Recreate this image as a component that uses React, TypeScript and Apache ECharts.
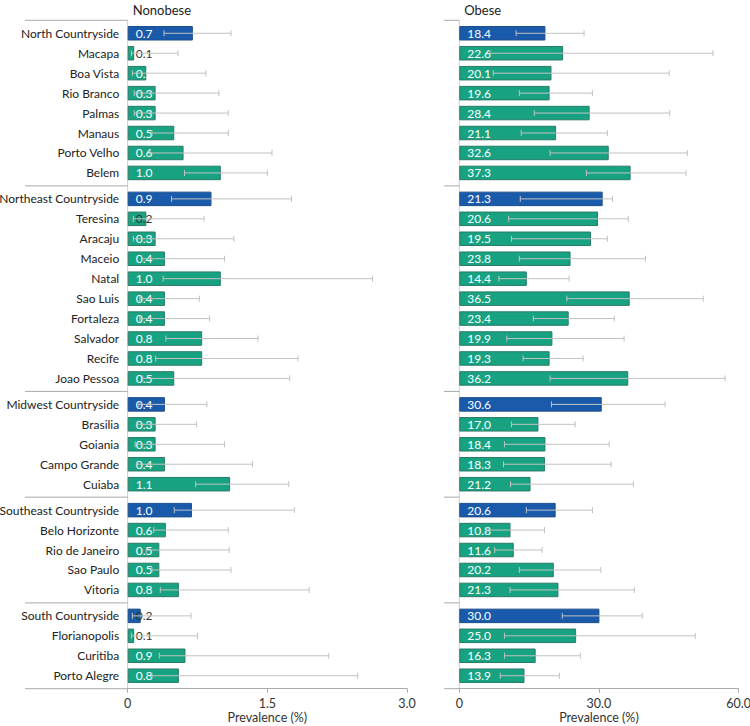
import React, { useEffect, useRef } from "react";
import * as echarts from "echarts";

const names = [
  "North Countryside", "Macapa", "Boa Vista", "Rio Branco", "Palmas", "Manaus", "Porto Velho", "Belem",
  "Northeast Countryside", "Teresina", "Aracaju", "Maceio", "Natal", "Sao Luis", "Fortaleza", "Salvador", "Recife", "Joao Pessoa",
  "Midwest Countryside", "Brasilia", "Goiania", "Campo Grande", "Cuiaba",
  "Southeast Countryside", "Belo Horizonte", "Rio de Janeiro", "Sao Paulo", "Vitoria",
  "South Countryside", "Florianopolis", "Curitiba", "Porto Alegre",
];
const groupSizes = [8, 10, 5, 5, 4];

const nonobeseBar = [0.70, 0.07, 0.20, 0.30, 0.30, 0.50, 0.60, 1.00, 0.90, 0.20, 0.30, 0.40, 1.00, 0.40, 0.40, 0.80, 0.80, 0.50, 0.40, 0.30, 0.30, 0.40, 1.10, 0.69, 0.41, 0.34, 0.34, 0.55, 0.14, 0.07, 0.62, 0.55];
const nonobeseLow = [0.39, 0.04, 0.05, 0.07, 0.07, 0.26, 0.24, 0.61, 0.47, 0.06, 0.06, 0.15, 0.38, 0.13, 0.13, 0.41, 0.30, 0.16, 0.12, 0.10, 0.08, 0.10, 0.73, 0.50, 0.28, 0.20, 0.26, 0.35, 0.05, 0.04, 0.34, 0.26];
const nonobeseHigh = [1.11, 0.54, 0.84, 0.98, 1.08, 1.08, 1.55, 1.50, 1.76, 0.82, 1.14, 1.04, 2.63, 0.77, 0.88, 1.40, 1.83, 1.74, 0.85, 0.74, 1.04, 1.34, 1.73, 1.79, 1.08, 1.09, 1.11, 1.95, 0.68, 0.75, 2.16, 2.47];
const nonobeseLabel = ["0.7", "0.1", "0.2", "0.3", "0.3", "0.5", "0.6", "1.0", "0.9", "0.2", "0.3", "0.4", "1.0", "0.4", "0.4", "0.8", "0.8", "0.5", "0.4", "0.3", "0.3", "0.4", "1.1", "1.0", "0.6", "0.5", "0.5", "0.8", "0.2", "0.1", "0.9", "0.8"];

const obeseBar = [18.5, 22.3, 19.8, 19.4, 28.0, 20.8, 32.1, 36.8, 30.8, 29.8, 28.3, 23.9, 14.5, 36.6, 23.5, 20.0, 19.4, 36.3, 30.6, 17.0, 18.5, 18.4, 15.3, 20.7, 11.0, 11.7, 20.3, 21.3, 30.1, 25.1, 16.4, 14.0];
const obeseLow = [12.2, 6.6, 7.3, 12.9, 16.1, 13.3, 19.5, 27.3, 13.1, 10.6, 11.2, 12.9, 8.5, 23.1, 15.9, 10.2, 13.7, 19.5, 19.8, 11.2, 9.7, 9.5, 11.0, 14.4, 5.9, 7.6, 12.9, 10.9, 22.1, 9.7, 9.7, 8.8];
const obeseHigh = [26.8, 54.5, 45.1, 28.6, 45.2, 31.8, 49.0, 48.7, 32.9, 36.3, 31.8, 40.0, 23.6, 52.4, 33.3, 35.4, 26.6, 57.1, 44.2, 24.9, 32.2, 32.6, 37.4, 28.6, 18.3, 17.8, 30.4, 37.6, 39.3, 50.7, 26.0, 21.5];
const obeseLabel = ["18.4", "22.6", "20.1", "19.6", "28.4", "21.1", "32.6", "37.3", "21.3", "20.6", "19.5", "23.8", "14.4", "36.5", "23.4", "19.9", "19.3", "36.2", "30.6", "17,0", "18.4", "18.3", "21.2", "20.6", "10.8", "11.6", "20.2", "21.3", "30.0", "25.0", "16.3", "13.9"];

const darkLabelRows = ["Macapa", "Teresina", "South Countryside", "Florianopolis"];

const panelTitles = ["Nonobese", "Obese"];
const axisMax = [3, 60];
const axisInterval = [1.5, 30];

const FONT = "Lato, 'Open Sans', sans-serif";
const TOP = 20.3;
const ROW = 19.95;
const PAD = 3;
const PANEL_LEFT = [127.7, 459.3];
const PANEL_W = 279.3;
const SEP_LEFT = [25, 444];
const BLUE = "#1a5aab";
const GREEN = "#17a382";
const GREEN_BORDER = "#2a7a66";
const BLUE_BORDER = "#1d4f8a";
const ERR = "#c2c2c2";
const LINE = "#aaaaaa";

export default function App() {
  const ref = useRef<HTMLDivElement>(null);
  useEffect(() => {
    if (!ref.current) return;
    const chart = echarts.init(ref.current, undefined, { renderer: "svg" });

    const panels = [
      { bar: nonobeseBar, low: nonobeseLow, high: nonobeseHigh, label: nonobeseLabel },
      { bar: obeseBar, low: obeseLow, high: obeseHigh, label: obeseLabel },
    ];

    const groupTops: number[] = [];
    const boundaries: number[] = [];
    let y = TOP;
    groupSizes.forEach((n) => {
      boundaries.push(y);
      groupTops.push(y + PAD);
      y += n * ROW + 2 * PAD;
    });
    const bottom = y;
    const groupStart: number[] = [];
    let s = 0;
    groupSizes.forEach((n) => { groupStart.push(s); s += n; });

    const grid: any[] = [];
    const xAxis: any[] = [];
    const yAxis: any[] = [];
    const series: any[] = [];

    panels.forEach((pd, p) => {
      groupSizes.forEach((n, g) => {
        const idx = grid.length;
        const start = groupStart[g];
        const cats = names.slice(start, start + n);
        const isLast = g === groupSizes.length - 1;
        grid.push({
          left: PANEL_LEFT[p],
          width: PANEL_W,
          top: groupTops[g],
          height: n * ROW,
          containLabel: false,
          outerBoundsMode: "none",
        });
        xAxis.push({
          gridIndex: idx,
          type: "value",
          min: 0,
          max: axisMax[p],
          interval: axisInterval[p],
          show: isLast,
          position: "bottom",
          offset: PAD,
          axisLine: { show: true, onZero: false, lineStyle: { color: LINE, width: 1 } },
          axisTick: { show: true, length: 4, lineStyle: { color: LINE } },
          splitLine: { show: false },
          axisLabel: {
            margin: 8,
            fontSize: 12.5,
            fontFamily: FONT,
            color: "#333",
            formatter: (v: number) => (v === 0 ? "0" : v.toFixed(1)),
          },
          name: "Prevalence (%)",
          nameLocation: "middle",
          nameGap: 22,
          nameTextStyle: { fontSize: 12.5, lineHeight: 14, fontFamily: FONT, color: "#333" },
        });
        yAxis.push({
          gridIndex: idx,
          type: "category",
          data: cats,
          inverse: true,
          axisLine: { show: false },
          axisTick: { show: false },
          splitLine: { show: false },
          axisLabel: {
            show: p === 0,
            margin: 8.5,
            fontSize: 12,
            fontFamily: FONT,
            color: "#222",
          },
        });
        series.push({
          type: "bar",
          xAxisIndex: idx,
          yAxisIndex: idx,
          barWidth: 14.5,
          z: 2,
          data: cats.map((name, i) => {
            const k = start + i;
            const country = name.includes("Countryside");
            return {
              value: pd.bar[k],
              itemStyle: {
                color: country ? BLUE : GREEN,
                borderColor: country ? BLUE_BORDER : GREEN_BORDER,
                borderWidth: 1,
              },
              label: {
                show: true,
                position: "insideLeft",
                distance: 8,
                formatter: pd.label[k],
                color: p === 0 && darkLabelRows.includes(name) ? "#333" : "#ffffff",
                fontSize: 12,
                fontFamily: FONT,
              },
            };
          }),
        });
        series.push({
          type: "custom",
          xAxisIndex: idx,
          yAxisIndex: idx,
          z: 5,
          silent: true,
          encode: { x: [0, 1], y: 2 },
          data: cats.map((_, i) => [pd.low[start + i], pd.high[start + i], i]),
          renderItem: (params: any, api: any) => {
            const a = api.coord([api.value(0), api.value(2)]);
            const b = api.coord([api.value(1), api.value(2)]);
            const h = 3;
            const st = { stroke: ERR, lineWidth: 1 };
            return {
              type: "group",
              children: [
                { type: "line", shape: { x1: a[0], y1: a[1], x2: b[0], y2: b[1] }, style: st },
                { type: "line", shape: { x1: a[0], y1: a[1] - h, x2: a[0], y2: a[1] + h }, style: st },
                { type: "line", shape: { x1: b[0], y1: b[1] - h, x2: b[0], y2: b[1] + h }, style: st },
              ],
            };
          },
        });
      });
    });

    const graphic: any[] = [];
    [0, 1].forEach((p) => {
      graphic.push({
        type: "line",
        shape: { x1: PANEL_LEFT[p], y1: TOP, x2: PANEL_LEFT[p], y2: bottom },
        style: { stroke: "#cccccc", lineWidth: 1 },
        silent: true,
      });
      [...boundaries, bottom].forEach((by) => {
        graphic.push({
          type: "line",
          shape: { x1: SEP_LEFT[p], y1: by, x2: PANEL_LEFT[p], y2: by },
          style: { stroke: LINE, lineWidth: 1 },
          silent: true,
        });
      });
    });

    chart.setOption({
      animation: false,
      backgroundColor: "#ffffff",
      title: panelTitles.map((t, p) => ({
        text: t,
        left: PANEL_LEFT[p],
        top: -2,
        textStyle: { fontSize: 13, fontWeight: "normal", fontFamily: FONT, color: "#222" },
      })),
      grid,
      xAxis,
      yAxis,
      series,
      graphic,
    });
    return () => chart.dispose();
  }, []);
  return (
    <div
      ref={ref}
      style={{ position: "fixed", left: 0, top: 0, width: 750, height: 726 }}
    />
  );
}
